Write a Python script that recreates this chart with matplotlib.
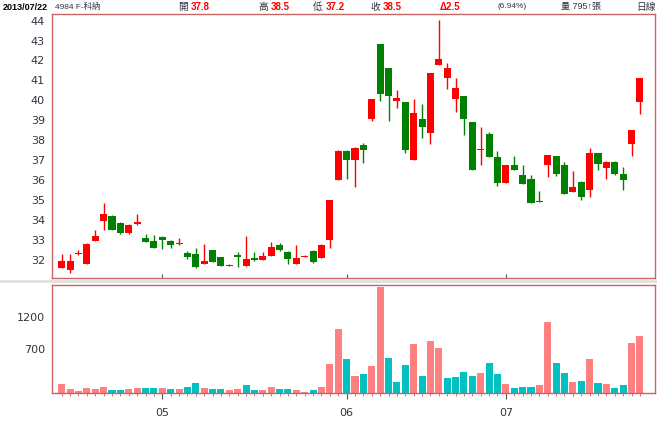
import matplotlib
matplotlib.use('Agg')
import matplotlib.pyplot as plt
from matplotlib.patches import Rectangle

# daily OHLC, 2013/04/15 .. 2013/07/23
opens = [31.6, 31.5, 32.28, 31.8, 32.97, 33.95, 34.2, 33.85, 33.35, 33.8,
         33.1, 32.95, 33.15, 32.95, 32.78, 32.35, 32.3, 31.8, 32.5, 32.15,
         31.72, 32.27, 31.7, 32.12, 32.0, 32.2, 32.75, 32.4, 31.8, 32.15,
         32.45, 32.1, 33.0, 36.0, 37.45, 37.0, 37.75, 39.05, 42.85, 41.6,
         39.95, 39.9, 37.0, 39.05, 38.35, 41.75, 41.1, 40.05, 40.2, 38.9,
         37.5, 38.3, 37.15, 35.85, 36.75, 36.25, 36.05, 34.95, 36.75, 37.2,
         36.75, 35.4, 35.9, 35.5, 37.35, 36.6, 36.9, 36.3, 37.8, 39.9]
highs = [32.3, 32.3, 32.5, 32.85, 33.5, 34.85, 34.25, 33.9, 33.8, 34.3,
         33.3, 33.25, 33.2, 33.0, 33.1, 32.45, 32.6, 32.8, 32.5, 32.15,
         31.8, 32.4, 33.2, 32.4, 32.4, 32.9, 32.85, 32.45, 32.75, 32.25,
         32.5, 32.8, 35.0, 37.5, 37.5, 37.65, 37.85, 40.05, 42.85, 41.6,
         40.5, 39.9, 40.05, 39.8, 41.35, 44.05, 41.85, 41.1, 40.2, 38.9,
         38.65, 38.4, 37.45, 36.75, 37.2, 36.75, 36.25, 35.45, 37.25, 37.2,
         36.9, 36.45, 35.95, 37.6, 37.35, 36.95, 36.95, 36.65, 38.5, 41.1]
lows = [31.6, 31.35, 32.25, 31.8, 32.95, 33.5, 33.5, 33.3, 33.3, 33.75,
        32.9, 32.6, 32.55, 32.6, 32.75, 32.05, 31.6, 31.8, 31.9, 31.7,
        31.7, 31.65, 31.7, 31.97, 32.0, 32.2, 32.45, 31.8, 31.8, 32.15,
        31.85, 32.1, 32.6, 36.0, 36.05, 35.65, 36.85, 38.95, 39.95, 38.95,
        39.6, 37.35, 37.0, 38.1, 37.8, 41.75, 40.55, 39.4, 38.25, 36.5,
        36.75, 37.15, 35.7, 35.85, 36.5, 35.8, 34.85, 34.9, 36.15, 36.2,
        35.3, 35.4, 35.0, 35.15, 36.5, 36.05, 36.25, 35.5, 37.2, 39.3]
closes = [31.95, 31.97, 32.3, 32.8, 33.2, 34.3, 33.5, 33.35, 33.75, 33.9,
          32.9, 32.6, 33.0, 32.75, 32.8, 32.15, 31.65, 31.95, 31.9, 31.7,
          31.75, 32.15, 32.05, 31.98, 32.2, 32.65, 32.5, 32.05, 32.1, 32.2,
          31.9, 32.75, 35.0, 37.45, 37.0, 37.6, 37.5, 40.05, 40.3, 40.2,
          40.1, 37.5, 39.35, 38.65, 41.35, 42.05, 41.6, 40.6, 39.05, 36.5,
          37.5, 37.15, 35.85, 36.75, 36.5, 35.8, 34.85, 34.92, 37.25, 36.3,
          35.3, 35.65, 35.15, 37.35, 36.8, 36.9, 36.3, 36.0, 38.5, 41.1]
volumes = [137, 58, 32, 84, 63, 95, 47, 47, 63, 84,
           79, 79, 79, 68, 58, 89, 158, 79, 68, 68,
           47, 58, 121, 47, 47, 95, 68, 68, 47, 16,
           42, 95, 463, 1015, 541, 268, 295, 421, 1672, 547,
           178, 442, 768, 268, 825, 715, 241, 252, 331, 268,
           320, 473, 295, 137, 79, 89, 89, 121, 1131, 473,
           310, 173, 189, 531, 163, 137, 84, 121, 795, 910]

month_pos = [12, 34, 53]
month_labels = ['05', '06', '07']
price_ticks = [32, 33, 34, 35, 36, 37, 38, 39, 40, 41, 42, 43, 44]
vol_ticks = [700, 1200]

RED = '#FF0000'
GREEN = '#008000'
VRED = '#FF8080'
VTEAL = '#00C0C0'
FRAME = '#C86464'
FONT = ['DejaVu Sans', 'Noto Sans CJK TC']
HFONT = ['Liberation Sans', 'Noto Sans CJK TC']

plt.rcParams['font.family'] = FONT

fig = plt.figure(figsize=(6.57, 4.25), dpi=100)
W, H = 657, 425

def box(l, t, r, b):
    return [l / W, 1 - b / H, (r - l) / W, (b - t) / H]

ax = fig.add_axes(box(52, 14, 655, 278))
vax = fig.add_axes(box(52, 285, 655, 393))

n = len(opens)
bw = 0.84
for i in range(n):
    c = RED if closes[i] >= opens[i] else GREEN
    ax.vlines(i, lows[i], highs[i], color=c, lw=1)
    lo = min(opens[i], closes[i])
    h = max(abs(closes[i] - opens[i]), 0.05)
    ax.add_patch(Rectangle((i - bw / 2, lo), bw, h, facecolor=c, edgecolor='none'))

vcol = []
for i in range(n):
    prev = closes[i - 1] if i > 0 else opens[0]
    vcol.append(VRED if closes[i] >= prev else VTEAL)
vax.bar(range(n), volumes, width=bw, color=vcol)

xlim = (-1.16, 70.8)
ax.set_xlim(xlim)
vax.set_xlim(xlim)
ax.set_ylim(31.1, 44.33)
vax.set_ylim(0, 1710)

ax.set_yticks(price_ticks)
ax.set_yticklabels([str(t) for t in price_ticks])
ax.tick_params(axis='y', length=0, labelsize=8, pad=5, labelcolor='#333344')
ax.set_xticks(month_pos)
ax.set_xticklabels([])
ax.tick_params(axis='x', length=3, direction='in', color='#555555')

vax.set_yticks(vol_ticks)
vax.set_yticklabels([str(t) for t in vol_ticks])
vax.tick_params(axis='y', length=0, labelsize=8, pad=5, labelcolor='#333344')
vax.set_xticks(month_pos)
vax.set_xticklabels(month_labels)
vax.set_xticks(range(n), minor=True)
vax.tick_params(axis='x', which='major', length=4, color='#555555', labelsize=8, pad=7,
                labelcolor='#333344')
vax.tick_params(axis='x', which='minor', length=2, color=FRAME)

for a in (ax, vax):
    for s in a.spines.values():
        s.set_color(FRAME)
        s.set_linewidth(1)

# light separator between panels
fig.add_artist(plt.Line2D([0, 1], [1 - 281 / H, 1 - 281 / H], color='#E0E0E0', lw=2))

# header line
ty = 1 - 7 / H
def hdr(x, s, color='black', bold=False, size=7):
    fig.text(x / W, ty, s, color=color, fontsize=size, va='center', ha='left',
             fontweight='bold' if bold else 'normal', family=HFONT)

hdr(3, '2013/07/22', bold=True, size=6.5)
hdr(55, '4984 F-科納', color='#333344', size=6)
hdr(178, '開', color='#333344')
hdr(191, '37.8', color=RED, bold=True)
hdr(258, '高', color='#333344')
hdr(271, '38.5', color=RED, bold=True)
hdr(313, '低', color='#333344')
hdr(326, '37.2', color=RED, bold=True)
hdr(370, '收', color='#333344')
hdr(383, '38.5', color=RED, bold=True)
hdr(440, 'Δ2.5', color=RED, bold=True)
hdr(497, '(6.94%)', color='#333344', size=6)
hdr(561, '量 795↑張', color='#333344', size=6.5)
hdr(636, '日線', color='#333344')

fig.savefig('out.png', dpi=100)
